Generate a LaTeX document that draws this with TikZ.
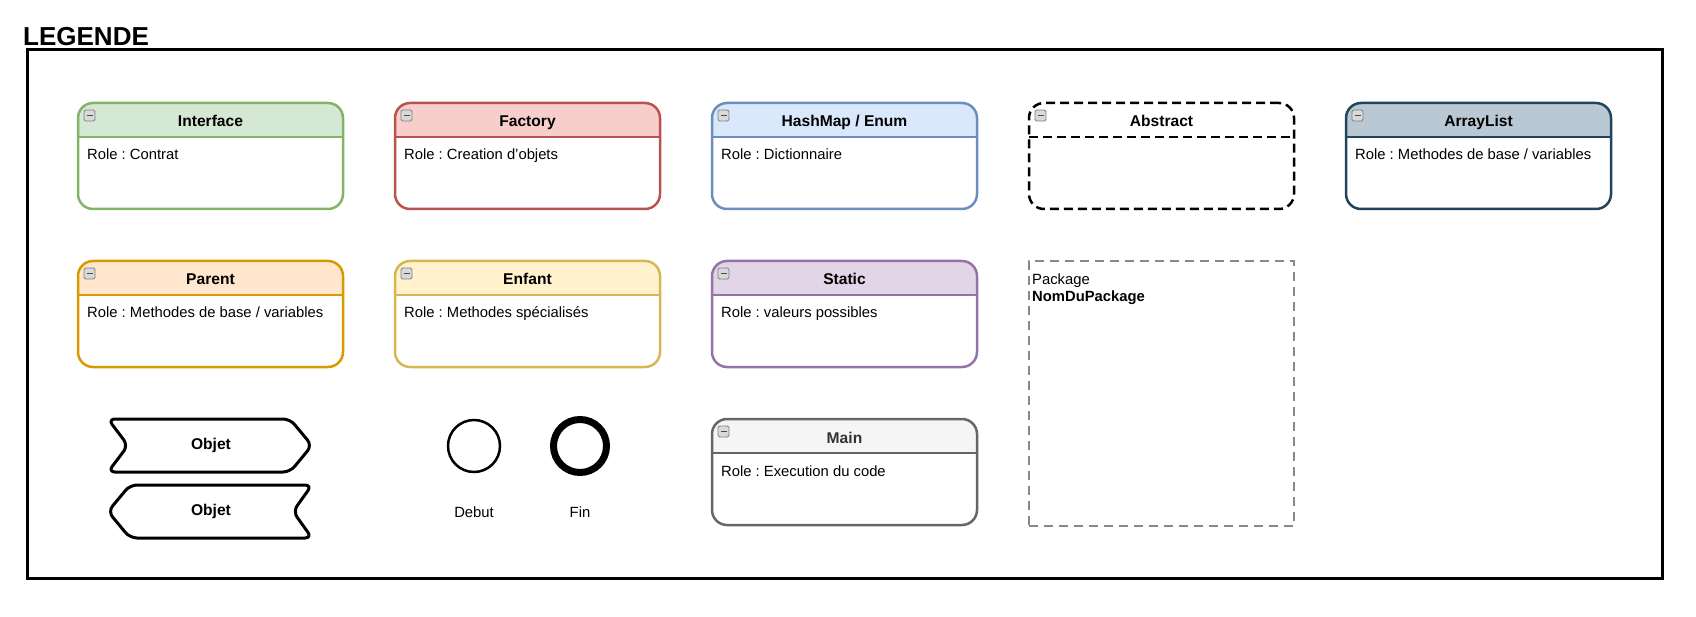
\documentclass[tikz,border=0pt]{standalone}
\usepackage{fontspec}
\setmainfont{Liberation Sans}
\usetikzlibrary{positioning}
\frenchspacing

\definecolor{ifacefill}{HTML}{D5E8D4}\definecolor{ifaceline}{HTML}{82B366}
\definecolor{factfill}{HTML}{F8CECC}\definecolor{factline}{HTML}{B85450}
\definecolor{hmapfill}{HTML}{DAE8FC}\definecolor{hmapline}{HTML}{6C8EBF}
\definecolor{alistfill}{HTML}{BAC8D3}\definecolor{alistline}{HTML}{23445D}
\definecolor{parentfill}{HTML}{FFE6CC}\definecolor{parentline}{HTML}{D79B00}
\definecolor{childfill}{HTML}{FFF2CC}\definecolor{childline}{HTML}{D6B656}
\definecolor{statfill}{HTML}{E1D5E7}\definecolor{statline}{HTML}{9673A6}
\definecolor{mainfill}{HTML}{F5F5F5}\definecolor{mainline}{HTML}{666666}
\definecolor{maintext}{HTML}{333333}
\definecolor{pkgline}{HTML}{888888}

\begin{document}
\begin{tikzpicture}[x=1pt,y=-1pt,
  font=\fontsize{14.8}{17}\selectfont,
  umlbox/.style 2 args={draw=#2,fill=white,line width=2.5pt,rounded corners=15pt,
    minimum width=265pt,minimum height=106pt,inner sep=0pt,outer sep=0pt,
    path picture={
      \fill[#1,sharp corners] (path picture bounding box.north west) rectangle ([yshift=-34pt]path picture bounding box.north east);
      \draw ([yshift=-34pt]path picture bounding box.north west) -- ([yshift=-34pt]path picture bounding box.north east);
      \draw[solid,line width=0.8pt,draw=black!50,fill=black!15,rounded corners=1.5pt]
        ([xshift=6pt,yshift=-7pt]path picture bounding box.north west) rectangle +(11pt,-11pt);
      \draw[solid,line width=1.6pt,black!70]
        ([xshift=8.5pt,yshift=-12.5pt]path picture bounding box.north west) -- +(6pt,0pt);
    }},
  headtxt/.style={anchor=base,font=\fontsize{15.6}{18}\selectfont\bfseries},
  roletxt/.style={anchor=base west,inner sep=0pt},
  objshape/.style={line width=3pt,rounded corners=7pt,line join=round},
  objtxt/.style={font=\fontsize{15.6}{18}\selectfont\bfseries}
]
\useasboundingbox (0,0) rectangle (1696,617);

% titre + cadre
\node[anchor=base west,inner sep=0pt,font=\fontsize{26}{30}\selectfont\bfseries] (legende) at (23,45.5) {LEGENDE};
\draw[line width=3pt] (27,50) rectangle (1662,578);

% ligne 1
\node[umlbox={ifacefill}{ifaceline}] (iface) at (210.5,156) {};
\node[umlbox={factfill}{factline},right=52pt of iface] (fact) {};
\node[umlbox={hmapfill}{hmapline},right=52pt of fact] (hmap) {};
\node[umlbox={white}{black},dash pattern=on 9pt off 5pt,right=52pt of hmap] (abstr) {};
\node[umlbox={alistfill}{alistline},right=52pt of abstr] (alist) {};

% ligne 2
\node[umlbox={parentfill}{parentline},below=52pt of iface] (parent) {};
\node[umlbox={childfill}{childline},right=52pt of parent] (child) {};
\node[umlbox={statfill}{statline},right=52pt of child] (stat) {};
\node[draw=pkgline,line width=2pt,dash pattern=on 9pt off 6pt,minimum width=265pt,minimum height=265pt,
  inner sep=0pt,outer sep=0pt,below=52pt of abstr] (pkg) {};

% ligne 3
\node[umlbox={mainfill}{mainline},below=52pt of stat] (main) {};

% titres
\node[headtxt] (ifacet) at ([yshift=-24pt]iface.north) {Interface};
\node[headtxt] (factt) at ([yshift=-24pt]fact.north) {Factory};
\node[headtxt] (hmapt) at ([yshift=-24pt]hmap.north) {HashMap / Enum};
\node[headtxt] (abstrt) at ([yshift=-24pt]abstr.north) {Abstract};
\node[headtxt] (alistt) at ([yshift=-24pt]alist.north) {ArrayList};
\node[headtxt] (parentt) at ([yshift=-24pt]parent.north) {Parent};
\node[headtxt] (childt) at ([yshift=-24pt]child.north) {Enfant};
\node[headtxt] (statt) at ([yshift=-24pt]stat.north) {Static};
\node[headtxt,text=maintext] (maint) at ([yshift=-24pt]main.north) {Main};

% roles
\node[roletxt] (ifacer) at ([xshift=9pt,yshift=-57pt]iface.north west) {Role : Contrat};
\node[roletxt] (factr) at ([xshift=9pt,yshift=-57pt]fact.north west) {Role : Creation d'objets};
\node[roletxt] (hmapr) at ([xshift=9pt,yshift=-57pt]hmap.north west) {Role : Dictionnaire};
\node[roletxt] (alistr) at ([xshift=9pt,yshift=-57pt]alist.north west) {Role : Methodes de base / variables};
\node[roletxt] (parentr) at ([xshift=9pt,yshift=-57pt]parent.north west) {Role : Methodes de base / variables};
\node[roletxt] (childr) at ([xshift=9pt,yshift=-57pt]child.north west) {Role : Methodes spécialisés};
\node[roletxt] (statr) at ([xshift=9pt,yshift=-57pt]stat.north west) {Role : valeurs possibles};
\node[roletxt] (mainr) at ([xshift=9pt,yshift=-57pt]main.north west) {Role : Execution du code};

% package
\node[roletxt] (pkgt) at ([xshift=3pt,yshift=-24pt]pkg.north west) {Package};
\node[roletxt,font=\fontsize{14.8}{17}\selectfont\bfseries] (pkgn) at ([xshift=3pt,yshift=-41pt]pkg.north west) {NomDuPackage};

% objets
\draw[objshape] (108,419) -- (290,419) -- (312,445.5) -- (290,472) -- (108,472) -- (128,445.5) -- cycle;
\draw[objshape] (130,485) -- (312,485) -- (293,511.5) -- (312,538) -- (130,538) -- (108,511.5) -- cycle;
\node[objtxt] (obj1) at (211,445.5) {Objet};
\node[objtxt] (obj2) at (211,511.5) {Objet};

% debut / fin
\node[circle,draw,line width=2.5pt,minimum size=52pt,inner sep=0pt] (debut) at (474,446) {};
\node[circle,draw,line width=7pt,minimum size=53pt,inner sep=0pt] (fin) at (580,446) {};
\node (debutlbl) at (474,512) {Debut};
\node (finlbl) at (580,512) {Fin};
\end{tikzpicture}
\end{document}
